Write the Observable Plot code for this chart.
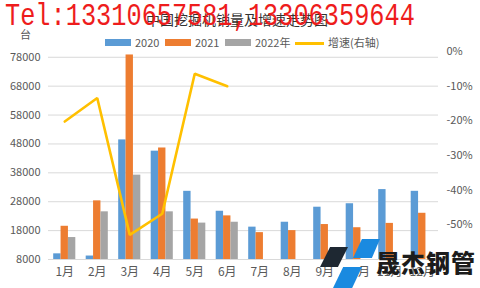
<!DOCTYPE html>
<html>
<head>
<meta charset="utf-8">
<script src="https://cdn.jsdelivr.net/npm/d3@7"></script>
<script src="https://cdn.jsdelivr.net/npm/@observablehq/plot@0.6"></script>
<style>
  html, body { margin: 0; padding: 0; background: #fff; }
  #wrap { position: relative; width: 480px; height: 288px; overflow: hidden; background: #fff;
          font-family: "Noto Sans CJK SC", "Noto Sans", sans-serif; color: #595959; }
  #chart { position: absolute; left: 0; top: 0; }
  .abs { position: absolute; white-space: nowrap; }
  .sw { position: absolute; height: 7px; }
  .lg { position: absolute; font-size: 11px; line-height: 14px; color: #595959; }
  .shape { position: absolute; }
</style>
</head>
<body>
<div id="wrap">
  <div id="chart"></div>
  <div class="abs" style="left:0;width:474px;top:9px;text-align:center;font-size:14px;color:#333;">中国挖掘机销量及增速走势图</div>
  <div class="abs" style="left:20px;top:26px;font-size:11px;color:#595959;">台</div>
  <div id="legend"></div>
  <div class="abs" style="left:5px;top:-1px;font-family:'Liberation Mono',monospace;font-size:25.3px;color:#ee1c1c;transform:scaleY(1.22);transform-origin:0 0;line-height:30px;">Tel:13310657581,13306359644</div>
  <div class="shape" style="left:320px;top:247px;width:28px;height:20px;background:#1e2832;clip-path:polygon(36% 0,100% 0,64% 100%,0 100%);"></div>
  <div class="shape" style="left:353px;top:239px;width:27px;height:19px;background:#1a8ae0;clip-path:polygon(33% 0,100% 0,70% 100%,0 100%);"></div>
  <div class="shape" style="left:333px;top:267px;width:29px;height:21px;background:#1a8ae0;clip-path:polygon(35% 0,100% 0,66% 100%,0 100%);"></div>
  <div class="abs" style="left:376px;top:247px;font-size:24px;font-weight:900;color:#1c1c1c;letter-spacing:1px;line-height:30px;">晟杰钢管</div>
</div>
<script>
// ---- data ----
const months = ["1月","2月","3月","4月","5月","6月","7月","8月","9月","10月","11月","12月"];
const sales2020 = [9960, 9200, 49400, 45500, 31600, 24700, 19200, 20900, 26100, 27300, 32200, 31600];
const sales2021 = [19500, 28300, 78800, 46600, 22000, 23100, 17300, 18000, 20100, 19000, 20500, 24000];
const sales2022 = [15600, 24500, 37200, 24500, 20600, 20900];
const growth2022 = [-20.2, -13.4, -52.9, -46.8, -6.4, -10.0];
const leftTicks = [8000, 18000, 28000, 38000, 48000, 58000, 68000, 78000];
const rightTicks = [0, -10, -20, -30, -40, -50];
const seriesNames = ["2020", "2021", "2022年", "增速(右轴)"];
const colors = ["#5B9BD5", "#ED7D31", "#A5A5A5", "#FFC000"];

// right axis (-60%..0%) mapped onto left axis domain (8000..80000)
const yMin = 8000, yMax = 80000, pMin = -60, pMax = 0;
const toLeft = p => yMin + (p - pMin) / (pMax - pMin) * (yMax - yMin);
const toPct = v => Math.round(pMin + (v - yMin) / (yMax - yMin) * (pMax - pMin));

const rows = (arr) => arr.map((v, i) => ({month: months[i], value: v}));
const lineRows = growth2022.map((p, i) => ({month: months[i], y: toLeft(p)}));

const plotW = 480 - 48 - 42;
const band = plotW / months.length;
const barW = band * 0.2268;
const off = (band - 3 * barW) / 2;
const slot = i => ({insetLeft: off + i * barW, insetRight: band - off - (i + 1) * barW});

const chart = Plot.plot({
  width: 480, height: 288,
  marginTop: 51, marginBottom: 29, marginLeft: 48, marginRight: 42,
  style: {fontFamily: '"Noto Sans CJK SC", "Noto Sans", sans-serif', fontSize: "11px", color: "#595959", background: "transparent", overflow: "visible"},
  x: {domain: months, padding: 0, round: false, label: null},
  y: {domain: [yMin, yMax], label: null},
  marks: [
    Plot.gridY(leftTicks, {stroke: "#D9D9D9", strokeOpacity: 1, strokeWidth: 1}),
    Plot.axisY(leftTicks, {anchor: "left", tickSize: 0, tickPadding: 8, label: null, tickFormat: d => String(d), fontSize: 11}),
    Plot.axisY(rightTicks.map(toLeft), {anchor: "right", tickSize: 0, tickPadding: 8, label: null, tickFormat: v => toPct(v) + "%", fontSize: 11}),
    Plot.axisX({tickSize: 0, tickPadding: 8, label: null, fontSize: 12}),
    Plot.barY(rows(sales2020), {x: "month", y1: yMin, y2: "value", fill: colors[0], ...slot(0)}),
    Plot.barY(rows(sales2021), {x: "month", y1: yMin, y2: "value", fill: colors[1], ...slot(1)}),
    Plot.barY(rows(sales2022), {x: "month", y1: yMin, y2: "value", fill: colors[2], ...slot(2)}),
    Plot.lineY(lineRows, {x: "month", y: "y", stroke: colors[3], strokeWidth: 2.6, strokeLinejoin: "miter"})
  ]
});
document.getElementById("chart").appendChild(chart);

// legend
const legendItems = [
  {sw: 105, tx: 135, kind: "bar"},
  {sw: 165, tx: 195, kind: "bar"},
  {sw: 225, tx: 255, kind: "bar"},
  {sw: 295, tx: 328, kind: "line"}
];
const lg = document.getElementById("legend");
legendItems.forEach((it, i) => {
  const s = document.createElement("div");
  s.className = "sw";
  s.style.left = it.sw + "px";
  s.style.width = (it.kind === "line" ? 29 : 26) + "px";
  if (it.kind === "line") { s.style.top = "42px"; s.style.height = "2.6px"; }
  else { s.style.top = "39px"; }
  s.style.background = colors[i];
  lg.appendChild(s);
  const t = document.createElement("div");
  t.className = "lg";
  t.style.left = it.tx + "px";
  t.style.top = "35px";
  t.textContent = seriesNames[i];
  lg.appendChild(t);
});
</script>
</body>
</html>
